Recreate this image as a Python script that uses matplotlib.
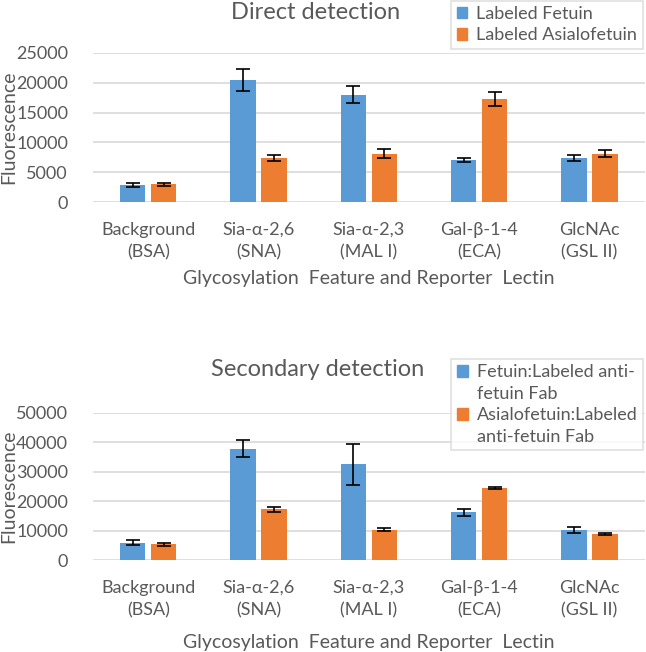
import matplotlib
matplotlib.use('Agg')
import matplotlib.pyplot as plt
from matplotlib.patches import Patch
import numpy as np

plt.rcParams['font.family'] = ['Lato', 'DejaVu Sans']

categories = ['Background\n(BSA)', 'Sia-α-2,6\n(SNA)', 'Sia-α-2,3\n(MAL I)', 'Gal-β-1-4\n(ECA)', 'GlcNAc\n(GSL II)']

# direct detection
direct_fetuin = [2900, 20450, 17950, 7050, 7400]
direct_fetuin_err = [400, 1900, 1400, 380, 580]
direct_asialo = [3000, 7400, 8150, 17250, 8150]
direct_asialo_err = [250, 550, 750, 1150, 580]

# secondary detection
second_fetuin = [5900, 37800, 32500, 16300, 10300]
second_fetuin_err = [850, 2900, 7000, 1200, 1100]
second_asialo = [5400, 17300, 10400, 24500, 8950]
second_asialo_err = [500, 800, 400, 300, 450]

blue = '#5B9BD5'
orange = '#ED7D31'
gray_text = '#595959'
grid_col = '#D9D9D9'


def drawPanel(ax, v1, e1, v2, e2, ymax, step, xlab_y):
	x = np.arange(len(categories))
	w = 0.23
	ax.bar(x - 0.14, v1, w, color=blue, yerr=e1, capsize=5,
		error_kw=dict(ecolor='black', elinewidth=1.2, capthick=1.2), zorder=3)
	ax.bar(x + 0.14, v2, w, color=orange, yerr=e2, capsize=5,
		error_kw=dict(ecolor='black', elinewidth=1.2, capthick=1.2), zorder=3)
	ax.set_xlim(-0.5, len(categories) - 0.5)
	ax.set_ylim(0, ymax)
	ax.set_yticks(np.arange(0, ymax + 1, step))
	ax.set_xticks(x)
	ax.set_xticklabels(categories, linespacing=1.5)
	ax.yaxis.grid(True, color=grid_col, linewidth=1.2, zorder=0)
	ax.set_axisbelow(True)
	for s in ax.spines.values():
		s.set_visible(False)
	ax.tick_params(axis='both', length=0, labelcolor=gray_text)
	ax.tick_params(axis='y', pad=18, labelsize=13)
	ax.tick_params(axis='x', pad=14, labelsize=13)
	ax.set_ylabel('Fluorescence', fontsize=14, color=gray_text, va='center')
	ax.yaxis.set_label_coords(-0.153, 0.5)
	ax.set_xlabel('Glycosylation  Feature and Reporter  Lectin', fontsize=14, color=gray_text, va='center')
	ax.xaxis.set_label_coords(0.5, xlab_y)


fig = plt.figure(figsize=(6.46, 6.52), dpi=100)
ax1 = fig.add_axes([0.144, 0.6897, 0.854, 0.2295])
ax2 = fig.add_axes([0.144, 0.1406, 0.854, 0.2264])

drawPanel(ax1, direct_fetuin, direct_fetuin_err, direct_asialo, direct_asialo_err, 25000, 5000, -0.51)
drawPanel(ax2, second_fetuin, second_fetuin_err, second_asialo, second_asialo_err, 50000, 10000, -0.555)

fig.text(0.489, 0.981, 'Direct detection', fontsize=17, color=gray_text, ha='center', va='center')
fig.text(0.492, 0.434, 'Secondary detection', fontsize=17, color=gray_text, ha='center', va='center')

leg_kw = dict(loc='upper right', fontsize=13, frameon=True, fancybox=False,
	handlelength=0.6, handleheight=0.6, handletextpad=0.5, borderpad=0.3,
	labelspacing=0.3, labelcolor=gray_text, edgecolor=grid_col, borderaxespad=0)

blank = Patch(facecolor='none', edgecolor='none')
l1 = fig.legend([Patch(color=blue), Patch(color=orange)], ['Labeled Fetuin', 'Labeled Asialofetuin'],
	bbox_to_anchor=(0.995, 0.999), bbox_transform=fig.transFigure, **leg_kw)
l1.get_frame().set_linewidth(1.2)

# wrapped labels, marker only beside the first line of each entry
l2 = fig.legend([Patch(color=blue), blank, Patch(color=orange), blank],
	['Fetuin:Labeled anti-', 'fetuin Fab', 'Asialofetuin:Labeled', 'anti-fetuin Fab'],
	bbox_to_anchor=(0.995, 0.4494), bbox_transform=fig.transFigure, **leg_kw)
l2.get_frame().set_linewidth(1.2)

fig.savefig('out.png', dpi=100)
